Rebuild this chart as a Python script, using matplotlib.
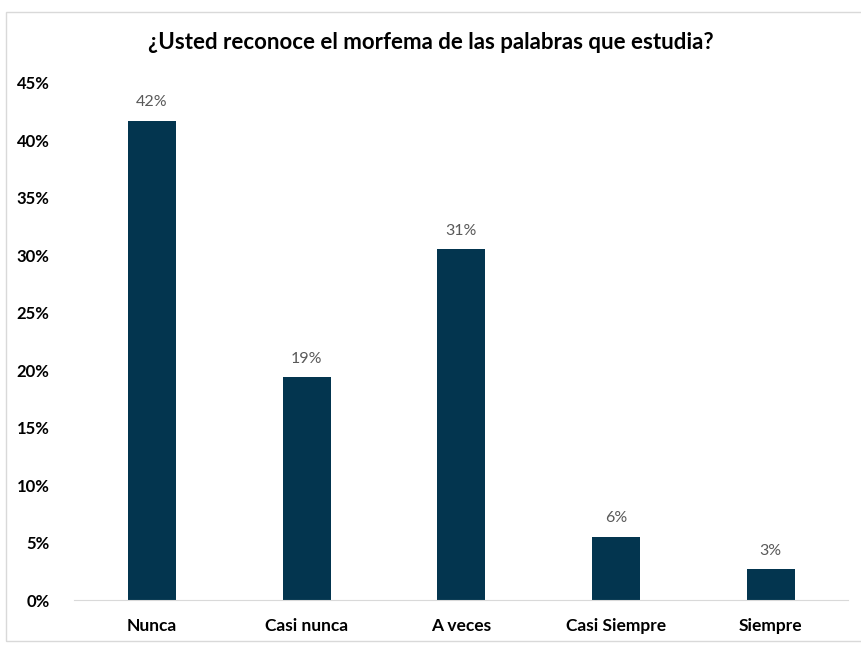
import matplotlib.pyplot as plt
from matplotlib.patches import Rectangle
from matplotlib.ticker import FuncFormatter

categories = ["Nunca", "Casi nunca", "A veces", "Casi Siempre", "Siempre"]
values = [41.7, 19.4, 30.5, 5.5, 2.7]
labels = ["42%", "19%", "31%", "6%", "3%"]

plt.rcParams['font.family'] = ['Lato', 'DejaVu Sans']

fig = plt.figure(figsize=(8.61, 6.47), dpi=100)
ax = fig.add_axes([0.0865, 0.0726, 0.8985, 0.7994])

x = list(range(len(categories)))
bars = ax.bar(x, values, width=0.31, color="#03354f")
for b, lab in zip(bars, labels):
    ax.text(b.get_x() + b.get_width() / 2, b.get_height() + 1.0, lab,
            ha="center", va="bottom", fontsize=11.5, color="#595959")

ax.set_xlim(-0.5, len(categories) - 0.5)
ax.set_ylim(0, 45)
ax.set_yticks(range(0, 46, 5))
ax.yaxis.set_major_formatter(FuncFormatter(lambda v, p: "{:d}%".format(int(v))))
ax.set_xticks(x)
ax.set_xticklabels(categories)
for t in ax.get_xticklabels():
    t.set_fontweight("bold")
    t.set_fontsize(12.5)
for t in ax.get_yticklabels():
    t.set_fontweight("bold")
    t.set_fontsize(12)
ax.tick_params(axis="both", length=0)
ax.tick_params(axis="x", pad=13)
ax.tick_params(axis="y", pad=18)

for s in ["top", "right", "left"]:
    ax.spines[s].set_visible(False)
ax.spines["bottom"].set_color("#d9d9d9")

fig.text(0.5, 0.935, "¿Usted reconoce el morfema de las palabras que estudia?",
         ha="center", va="center", fontsize=16, fontweight="bold")

fig.patches.append(Rectangle((0.007, 0.01), 1.1, 0.972, transform=fig.transFigure,
                             fill=False, edgecolor="#d9d9d9", linewidth=1))

fig.savefig("out.png", dpi=100)
